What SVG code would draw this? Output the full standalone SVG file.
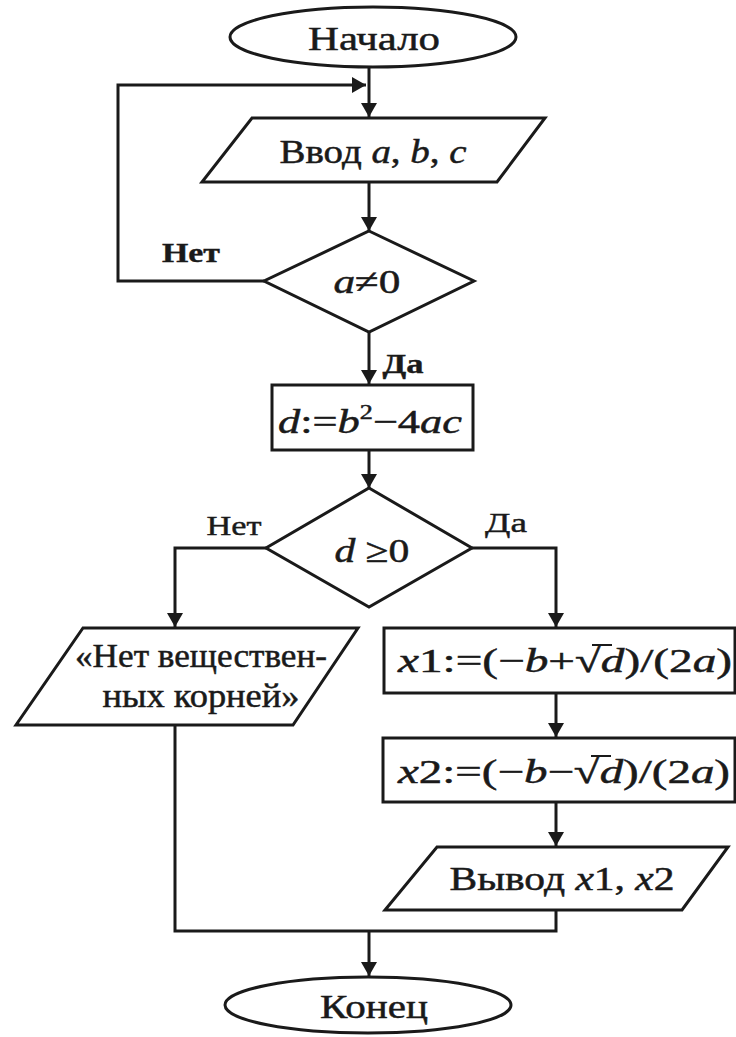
<svg xmlns="http://www.w3.org/2000/svg" width="736" height="1037" viewBox="0 0 736 1037">
<style>
.s{fill:#fff;stroke:#1a1a1a;stroke-width:3}
.c{fill:none;stroke:#1a1a1a;stroke-width:3}
.o{stroke:#1a1a1a;stroke-width:2}
.t{font-family:"Liberation Serif","Times New Roman",serif;font-size:34px;fill:#1a1a1a;stroke:#1a1a1a;stroke-width:0.5;text-anchor:middle}
.l{font-family:"Liberation Serif","Times New Roman",serif;font-size:27px;fill:#1a1a1a;stroke:#1a1a1a;stroke-width:0.4;text-anchor:middle}
.b{font-weight:bold}
.i{font-style:italic}
</style>
<defs>
<marker id="ah" markerWidth="14" markerHeight="16" refX="14" refY="8" orient="auto" markerUnits="userSpaceOnUse">
<path d="M0,0 L14,8 L0,16 Z" fill="#1a1a1a"/>
</marker>
</defs>
<rect width="736" height="1037" fill="#fff"/>
<g id="connectors">
<path class="c" d="M369,67 V117" marker-end="url(#ah)"/>
<path class="c" d="M264,281 H118 V85 H366" marker-end="url(#ah)"/>
<path class="c" d="M369,182 V231" marker-end="url(#ah)"/>
<path class="c" d="M369,332 V384" marker-end="url(#ah)"/>
<path class="c" d="M369,450 V488" marker-end="url(#ah)"/>
<path class="c" d="M266,548 H175 V627" marker-end="url(#ah)"/>
<path class="c" d="M472,548 H556 V627" marker-end="url(#ah)"/>
<path class="c" d="M556,693 V737" marker-end="url(#ah)"/>
<path class="c" d="M556,802 V846" marker-end="url(#ah)"/>
<path class="c" d="M175,725 V931 H556 V910"/>
<path class="c" d="M369,931 V976" marker-end="url(#ah)"/>
</g>
<g id="labels">
<text class="l b" x="191" y="262" textLength="58" lengthAdjust="spacingAndGlyphs">Нет</text>
<text class="l b" x="403" y="373" textLength="41" lengthAdjust="spacingAndGlyphs">Да</text>
<text class="l" x="234" y="535" textLength="55" lengthAdjust="spacingAndGlyphs">Нет</text>
<text class="l" x="506" y="532" textLength="42" lengthAdjust="spacingAndGlyphs">Да</text>
</g>
<g id="start">
<ellipse class="s" cx="373" cy="37" rx="143" ry="30"/>
<text class="t" x="374" y="50" textLength="132" lengthAdjust="spacingAndGlyphs">Начало</text>
</g>
<g id="input">
<polygon class="s" points="252,118 545,118 497,182 202,182"/>
<text class="t" x="373" y="163" textLength="187" lengthAdjust="spacingAndGlyphs">Ввод <tspan class="i">a</tspan>, <tspan class="i">b</tspan>, <tspan class="i">c</tspan></text>
</g>
<g id="check-a">
<polygon class="s" points="369,231 474,281 369,332 264,281"/>
<text class="t" x="367" y="293" textLength="67" lengthAdjust="spacingAndGlyphs"><tspan class="i">a</tspan>≠0</text>
</g>
<g id="calc-d">
<rect class="s" x="272" y="385" width="201" height="65"/>
<text class="t" x="370" y="433" textLength="184" lengthAdjust="spacingAndGlyphs"><tspan class="i">d</tspan>:=<tspan class="i">b</tspan><tspan font-size="20" dy="-14">2</tspan><tspan dy="14">−4</tspan><tspan class="i">ac</tspan></text>
</g>
<g id="check-d">
<polygon class="s" points="369,488 472,548 369,607 266,548"/>
<text class="t" x="372" y="562" textLength="75" lengthAdjust="spacingAndGlyphs"><tspan class="i">d</tspan> ≥0</text>
</g>
<g id="no-roots">
<polygon class="s" points="83,628 358,628 293,725 16,725"/>
<text class="t" x="201" y="667" textLength="252" lengthAdjust="spacingAndGlyphs">«Нет веществен-</text>
<text class="t" x="201" y="707" textLength="197" lengthAdjust="spacingAndGlyphs">ных корней»</text>
</g>
<g id="calc-x1">
<rect class="s" x="384" y="628" width="351" height="65"/>
<text class="t" x="565" y="672" textLength="334" lengthAdjust="spacingAndGlyphs"><tspan class="i">x</tspan>1:=(−<tspan class="i">b</tspan>+√<tspan class="i">d</tspan>)/(2<tspan class="i">a</tspan>)</text>
<line class="o" x1="592" y1="645" x2="612" y2="645"/>
</g>
<g id="calc-x2">
<rect class="s" x="383" y="738" width="352" height="64"/>
<text class="t" x="564" y="783" textLength="332" lengthAdjust="spacingAndGlyphs"><tspan class="i">x</tspan>2:=(−<tspan class="i">b</tspan>−√<tspan class="i">d</tspan>)/(2<tspan class="i">a</tspan>)</text>
<line class="o" x1="591" y1="756" x2="611" y2="756"/>
</g>
<g id="output">
<polygon class="s" points="437,847 728,847 682,910 385,910"/>
<text class="t" x="562" y="890" textLength="225" lengthAdjust="spacingAndGlyphs">Вывод <tspan class="i">x</tspan>1, <tspan class="i">x</tspan>2</text>
</g>
<g id="end">
<ellipse class="s" cx="368" cy="1005" rx="143" ry="28"/>
<text class="t" x="374" y="1018" textLength="108" lengthAdjust="spacingAndGlyphs">Конец</text>
</g>
</svg>
